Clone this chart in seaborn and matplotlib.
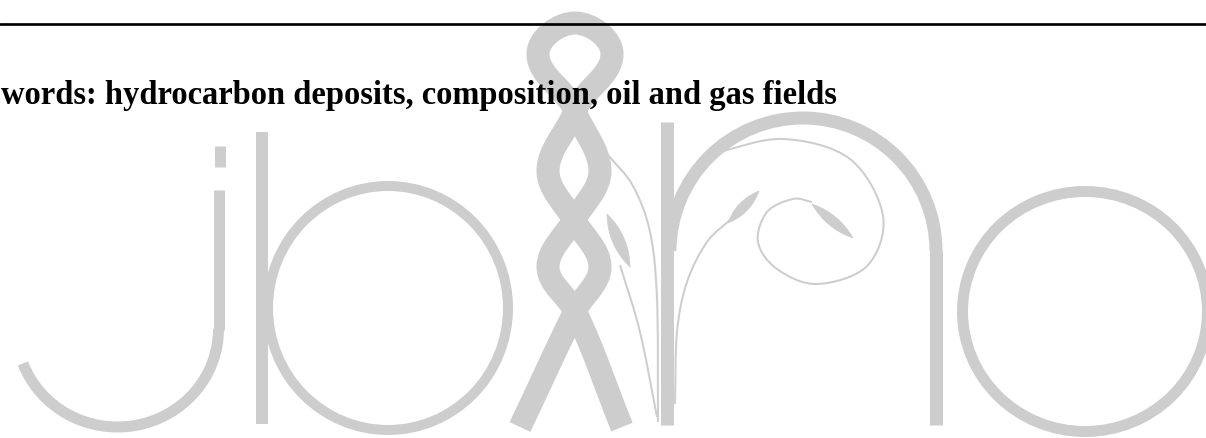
import matplotlib
matplotlib.use("Agg")
import matplotlib.pyplot as plt
import numpy as np
import pandas as pd
import seaborn as sns
from matplotlib.path import Path
from matplotlib.patches import PathPatch, Arc, Ellipse

W, H = 1206, 439
PT = 0.72          # points per pixel at dpi 100
GREY = "#cdcdcd"

# page text
keywords_text = "words: hydrocarbon deposits, composition, oil and gas fields"
text_left, text_baseline, text_right = 1, 104, 837
rule_y = 25

# straight strokes of the watermark (pixels)
stroke_names = ["j_dot", "j_stem", "b_stem", "r_stem", "n_leg"]
stroke_x = [220, 218.5, 262, 666.5, 936]
stroke_top = [147, 191, 133, 123, 251]
stroke_bottom = [168, 331, 425, 426, 426]
stroke_width = [11, 11, 12, 13, 13]

# round letters: centre, size, stroke width
bowl_names = ["b_bowl", "o"]
bowl_centre = [(388, 309), (1085, 312.5)]
bowl_size = [(240, 244), (245, 240)]
bowl_width = [10, 11]

arc_names = ["j_hook", "n_arch"]
arc_centre = [(117.5, 330), (803, 252)]
arc_size = [(202, 196), (266, 266)]
arc_angles = [(0, 160), (180, 360)]
arc_width = [11, 13]

# braided ribbon figure: knots and directions along the strand
ribbon_knots = [(520, 428), (575, 312), (600, 268), (574, 221), (548, 172),
                (575, 112), (612, 55), (575, 24), (538, 55), (575, 112),
                (600, 172), (574, 221), (548, 268), (575, 312), (622, 428)]
ribbon_dirs = [(0.43, -0.9), (0.45, -0.9), (0, -1), (-0.5, -0.87), (0, -1),
               (0.35, -0.94), (0, -1), (-1, 0), (0, 1), (0.35, 0.94),
               (0, 1), (-0.5, 0.87), (0, 1), (0.45, 0.9), (0.38, 0.92)]
ribbon_width = 23

# thin vines and the spiral
vine_points = [
    [(609, 157), (633, 187), (650, 233), (657, 300), (658, 423)],
    [(620, 266), (640, 333), (657, 418)],
    [(731, 220), (707, 243), (687, 283), (677, 333), (675, 405)],
    [(715, 154), (783, 140), (850, 160), (883, 217), (867, 267), (817, 285),
     (777, 270), (758, 243), (767, 213), (793, 200), (812, 203)],
]
vine_width = [2, 2, 2, 2]

# leaves: tip, tip, half width
leaf_tips = [((812, 205), (853, 239)), ((728, 224), (759, 192)), ((607, 215), (630, 268))]
leaf_half = [5, 5, 6]


def smooth_path(pts, dirs=None):
    pts = np.asarray(pts, float)
    if dirs is None:
        tans = np.gradient(pts, axis=0)
    else:
        d = np.asarray(dirs, float)
        d = d / np.linalg.norm(d, axis=1)[:, None]
        tans = None
    verts, codes = [pts[0]], [Path.MOVETO]
    for i in range(len(pts) - 1):
        p0, p1 = pts[i], pts[i + 1]
        if tans is None:
            L = np.linalg.norm(p1 - p0)
            t0, t1 = d[i] * L, d[i + 1] * L
        else:
            t0, t1 = tans[i], tans[i + 1]
        verts += [p0 + t0 / 3, p1 - t1 / 3, p1]
        codes += [Path.CURVE4] * 3
    return Path(verts, codes)


def leaf_path(a, b, hw):
    a, b = np.asarray(a, float), np.asarray(b, float)
    m = (a + b) / 2
    v = b - a
    n = np.array([-v[1], v[0]]) / np.linalg.norm(v)
    verts = [a, m + 2 * hw * n, b, m - 2 * hw * n, a, a]
    codes = [Path.MOVETO, Path.CURVE3, Path.CURVE3, Path.CURVE3, Path.CURVE3, Path.CLOSEPOLY]
    return Path(verts, codes)


sns.set_theme(style="white")
fig = plt.figure(figsize=(W / 100, H / 100), dpi=100)
ax = fig.add_axes([0, 0, 1, 1])

# straight strokes through seaborn
strokes = pd.DataFrame({
    "stroke": stroke_names * 2,
    "x": stroke_x * 2,
    "y": stroke_top + stroke_bottom,
    "width": stroke_width * 2,
})
sns.lineplot(data=strokes, x="x", y="y", units="stroke", estimator=None, sort=False,
             size="width", sizes={w: w * PT for w in set(stroke_width)},
             color=GREY, legend=False, ax=ax, solid_capstyle="butt", zorder=1)

for c, s, w in zip(bowl_centre, bowl_size, bowl_width):
    ax.add_patch(Ellipse(c, s[0], s[1], fill=False, ec=GREY, lw=w * PT, zorder=1))
for c, s, a, w in zip(arc_centre, arc_size, arc_angles, arc_width):
    ax.add_patch(Arc(c, s[0], s[1], theta1=a[0], theta2=a[1], ec=GREY, lw=w * PT,
                     capstyle="butt", zorder=1))

ax.add_patch(PathPatch(smooth_path(ribbon_knots, ribbon_dirs), fill=False, ec=GREY,
                       lw=ribbon_width * PT, capstyle="butt", joinstyle="round", zorder=1))
for pts, w in zip(vine_points, vine_width):
    ax.add_patch(PathPatch(smooth_path(pts), fill=False, ec=GREY, lw=w * PT, zorder=1))
for (a, b), hw in zip(leaf_tips, leaf_half):
    ax.add_patch(PathPatch(leaf_path(a, b, hw), fc=GREY, ec=GREY, lw=0.5, zorder=1))

# page rule and keyword line
ax.axhline(rule_y, color="black", lw=2.7 * PT, zorder=3)
txt = ax.text(text_left, text_baseline, keywords_text, fontsize=24,
              family=["Liberation Serif", "DejaVu Serif"], weight="bold",
              ha="left", va="baseline", color="black", zorder=3)

ax.set_xlim(0, W)
ax.set_ylim(H, 0)
ax.set_axis_off()

fig.canvas.draw()
bb = txt.get_window_extent()
txt.set_fontsize(24 * (text_right - text_left) / bb.width)

fig.savefig("out.png", dpi=100)
